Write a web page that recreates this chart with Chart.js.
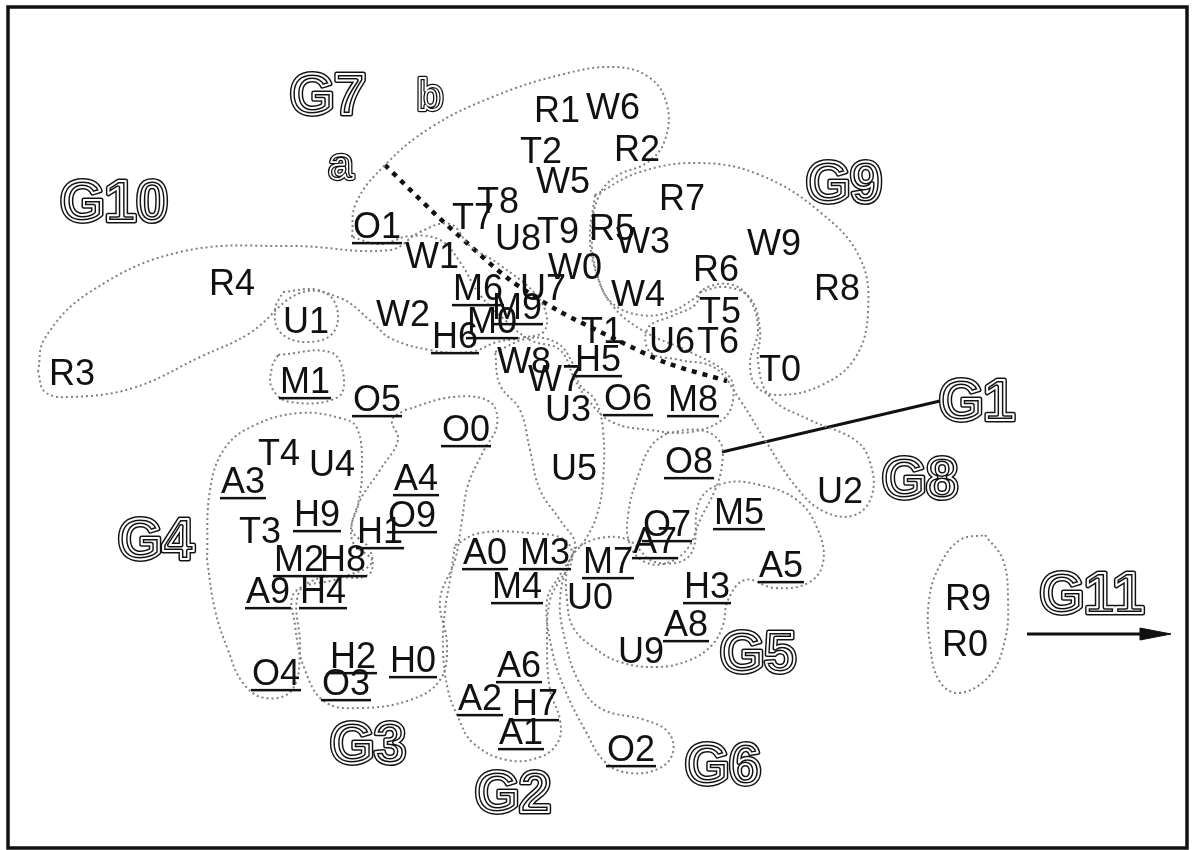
<!DOCTYPE html>
<html>
<head>
<meta charset="utf-8">
<script src="https://cdn.jsdelivr.net/npm/chart.js@4.4.1/dist/chart.umd.min.js"></script>
<style>
  html, body { margin: 0; padding: 0; background: #fff; }
  #wrap { width: 1195px; height: 850px; }
</style>
</head>
<body>
<div id="wrap"><canvas id="map" width="1195" height="850"></canvas></div>
<script>
// ------------------------------------------------------------
// Positions, in figure units (x right, y down)
// each family has items 0..9
// ------------------------------------------------------------
const families   = ['A', 'H', 'M', 'O', 'R', 'T', 'U', 'W'];
const underlined = ['A', 'H', 'M', 'O'];

const A_pos = [[485,551],[521,731],[480,697],[243,480],[416,477],[781,564],[519,664],[655,540],[686,623],[268,590]];
const H_pos = [[413,659],[380,530],[353,655],[707,585],[323,590],[598,358],[455,335],[535,702],[343,558],[317,513]];
const M_pos = [[492,320],[305,380],[299,558],[545,551],[517,585],[739,511],[478,287],[608,560],[693,398],[517,306]];
const O_pos = [[466,428],[377,225],[631,748],[346,682],[276,672],[377,398],[628,397],[667,523],[689,460],[412,514]];
const R_pos = [[965,643],[557,109],[637,148],[72,372],[232,282],[612,227],[716,268],[682,197],[837,287],[968,597]];
const T_pos = [[780,368],[602,330],[541,150],[260,530],[279,452],[720,310],[718,340],[473,216],[498,200],[558,230]];
const U_pos = [[590,596],[306,320],[840,490],[568,408],[332,463],[574,467],[672,340],[543,287],[518,237],[641,650]];
const W_pos = [[575,266],[432,255],[403,313],[643,240],[638,293],[563,180],[613,106],[555,378],[524,360],[774,242]];

// group names and where they sit
const groupNames = ['G1','G2','G3','G4','G5','G6','G7','G8','G9','G10','G11','a','b'];
const groupPos   = [[977,400],[513,792],[368,743],[156,539],[758,652],[723,764],[328,94],[920,478],[844,182],[114,201],[1092,593],[341,168],[430,94]];

// dotted group outlines
const hullG1  = [[667,433],[700,430],[720,442],[722,465],[715,490],[700,520],[688,548],[667,563],[645,562],[630,545],[628,515],[640,470],[652,445]];
const hullG2  = [[455,545],[480,533],[530,533],[565,540],[572,560],[560,580],[550,600],[547,640],[550,690],[560,720],[558,742],[540,757],[507,760],[473,743],[458,717],[448,690],[443,650],[445,610],[450,580]];
const hullG3  = [[405,410],[453,397],[490,402],[497,425],[483,452],[468,485],[462,520],[455,560],[440,600],[447,645],[440,680],[410,700],[360,708],[325,702],[305,670],[295,625],[295,592],[340,578],[372,562],[352,540],[358,505],[380,470],[398,440],[392,420]];
const hullG4  = [[207,560],[210,490],[225,448],[255,425],[300,413],[340,418],[357,428],[362,470],[358,505],[352,530],[370,550],[368,575],[320,578],[298,595],[300,650],[292,690],[265,698],[243,683],[228,650],[215,610]];
const hullG5  = [[575,548],[600,538],[628,540],[655,562],[690,555],[700,500],[725,483],[760,485],[797,500],[818,530],[823,563],[808,583],[775,588],[745,580],[728,600],[723,625],[712,645],[690,660],[657,667],[620,662],[593,647],[573,627],[567,600],[567,570]];
const hullG6  = [[495,352],[530,338],[557,343],[572,362],[580,385],[595,400],[603,430],[603,480],[597,515],[585,540],[570,560],[560,600],[565,640],[578,680],[600,708],[645,720],[668,732],[673,752],[660,768],[630,773],[605,762],[585,730],[565,690],[552,650],[547,600],[560,575],[575,545],[560,520],[540,490],[530,450],[520,410],[500,385]];
const hullG7  = [[352,237],[356,203],[385,165],[430,128],[490,98],[560,75],[615,67],[650,78],[667,105],[665,140],[648,162],[615,177],[598,198],[592,232],[596,270],[612,305],[645,332],[690,352],[728,375],[733,400],[722,420],[690,432],[650,430],[612,422],[588,400],[575,380],[560,350],[530,340],[505,320],[480,295],[460,262],[440,240],[410,236],[380,244]];
const hullG8  = [[700,292],[725,287],[750,298],[760,330],[758,362],[770,397],[810,420],[855,440],[870,462],[872,495],[855,515],[825,512],[797,488],[765,440],[740,400],[715,368],[680,360],[650,352],[648,328],[672,316],[695,305]];
const hullG9  = [[595,195],[640,172],[700,163],[760,175],[820,212],[860,258],[868,312],[855,358],[822,385],[780,395],[757,387],[750,362],[758,330],[750,300],[733,285],[708,287],[692,300],[670,312],[640,315],[612,303],[598,278],[590,240]];
const hullG10 = [[38,372],[45,338],[90,292],[180,252],[290,246],[390,250],[420,232],[450,224],[470,246],[500,265],[540,300],[545,330],[520,338],[497,342],[470,352],[430,350],[390,338],[372,322],[340,298],[300,293],[250,333],[200,357],[133,388],[70,397],[45,392]];
const hullG11 = [[985,535],[1003,560],[1008,600],[1005,640],[990,675],[960,693],[940,682],[930,645],[929,600],[940,565],[960,540]];
const hullU1  = [[283,292],[318,290],[336,305],[333,333],[305,342],[280,332],[275,310]];
const hullM1  = [[278,355],[330,352],[343,372],[338,397],[290,402],[272,388],[272,367]];

// the a/b split of G7, the G1 pointer and the G11 arrow
const splitLine = [[385,165],[433,212],[467,243],[510,280],[557,310],[617,340],[667,363],[727,381]];
const g1Pointer = [[722,452],[940,401]];
const g11Shaft  = [[1027,634],[1145,634]];
const g11Head   = [[1140,628],[1171,634],[1140,640]];

const positions = { A: A_pos, H: H_pos, M: M_pos, O: O_pos, R: R_pos, T: T_pos, U: U_pos, W: W_pos };
const hulls = [hullG1, hullG2, hullG3, hullG4, hullG5, hullG6, hullG7, hullG8, hullG9, hullG10, hullG11, hullU1, hullM1];

const INK = '#111';
const LABEL_PX = 36;

const toXY = arr => arr.map(p => ({ x: p[0], y: p[1] }));
const closed = arr => toXY(arr.concat([arr[0]]));

// ------------------------------------------------------------
// datasets
// ------------------------------------------------------------
const datasets = [];

families.forEach(f => {
  datasets.push({
    label: f,
    data: toXY(positions[f]),
    pointRadius: 0,
    texts: positions[f].map((_, i) => f + i),
    underline: underlined.includes(f)
  });
});

datasets.push({
  label: 'groups',
  data: toXY(groupPos),
  pointRadius: 0,
  texts: groupNames,
  outline: true
});

hulls.forEach((h, i) => {
  datasets.push({
    label: 'hull' + i,
    data: closed(h),
    showLine: true,
    borderColor: '#808080',
    borderWidth: 2,
    borderDash: [2, 3],
    pointRadius: 0,
    tension: 0.4,
    fill: false
  });
});

datasets.push({
  label: 'split',
  data: toXY(splitLine),
  showLine: true,
  borderColor: INK,
  borderWidth: 4.5,
  borderDash: [5, 6],
  pointRadius: 0,
  tension: 0.3
});

datasets.push({
  label: 'pointer',
  data: toXY(g1Pointer),
  showLine: true,
  borderColor: INK,
  borderWidth: 3,
  pointRadius: 0
});

datasets.push({
  label: 'arrow',
  data: toXY(g11Shaft),
  showLine: true,
  borderColor: INK,
  borderWidth: 3,
  pointRadius: 0
});

datasets.push({
  label: 'arrowhead',
  data: closed(g11Head),
  showLine: true,
  borderColor: INK,
  backgroundColor: INK,
  borderWidth: 1,
  pointRadius: 0,
  fill: 'shape'
});

// ------------------------------------------------------------
// text marks drawn at the scaled point positions
// ------------------------------------------------------------
function drawPlain(ctx, text, x, y, underline) {
  ctx.font = LABEL_PX + 'px "Liberation Sans", Arial, Helvetica, sans-serif';
  ctx.textAlign = 'center';
  ctx.textBaseline = 'alphabetic';
  ctx.fillStyle = INK;
  const base = y + LABEL_PX * 0.358;
  ctx.fillText(text, x, base);
  if (underline) {
    const w = ctx.measureText(text).width;
    ctx.fillRect(x - w / 2 - 1, base + 4, w + 2, 2.5);
  }
}

// hollow "outline" lettering used for the group names
function drawOutlined(ctx, text, x, y) {
  const small = text.length === 1;
  const px = small ? 44 : 57;
  ctx.font = 'bold ' + px + 'px "Liberation Sans", Arial, Helvetica, sans-serif';
  ctx.textAlign = 'center';
  ctx.textBaseline = 'alphabetic';
  ctx.lineJoin = 'round';
  const lift = text === 'a' ? 0.26 : 0.358;
  const base = y + px * lift;
  ctx.strokeStyle = INK;
  ctx.lineWidth = small ? 4.4 : 5;
  ctx.strokeText(text, x, base);
  ctx.strokeStyle = '#fff';
  ctx.lineWidth = small ? 1.8 : 2;
  ctx.strokeText(text, x, base);
}

const textMarks = {
  id: 'textMarks',
  afterDatasetsDraw(chart) {
    const ctx = chart.ctx;
    ctx.save();
    chart.data.datasets.forEach((ds, di) => {
      if (!ds.texts) return;
      const meta = chart.getDatasetMeta(di);
      meta.data.forEach((pt, i) => {
        if (ds.outline) drawOutlined(ctx, ds.texts[i], pt.x, pt.y);
        else drawPlain(ctx, ds.texts[i], pt.x, pt.y, ds.underline);
      });
    });
    ctx.restore();
  }
};

const frame = {
  id: 'frame',
  beforeDraw(chart) {
    const { ctx, width, height } = chart;
    ctx.save();
    ctx.fillStyle = '#fff';
    ctx.fillRect(0, 0, width, height);
    ctx.restore();
  },
  afterDraw(chart) {
    const { ctx, chartArea: a } = chart;
    ctx.save();
    ctx.strokeStyle = INK;
    ctx.lineWidth = 3.5;
    ctx.strokeRect(a.left, a.top, a.right - a.left, a.bottom - a.top);
    ctx.restore();
  }
};

new Chart(document.getElementById('map'), {
  type: 'scatter',
  data: { datasets },
  options: {
    responsive: false,
    animation: false,
    events: [],
    layout: { padding: { left: 8, top: 7, right: 8, bottom: 2 } },
    plugins: { legend: { display: false }, tooltip: { enabled: false } },
    scales: {
      x: { type: 'linear', min: 8, max: 1187, display: false },
      y: { type: 'linear', min: 7, max: 848, reverse: true, display: false }
    }
  },
  plugins: [textMarks, frame]
});
</script>
</body>
</html>
